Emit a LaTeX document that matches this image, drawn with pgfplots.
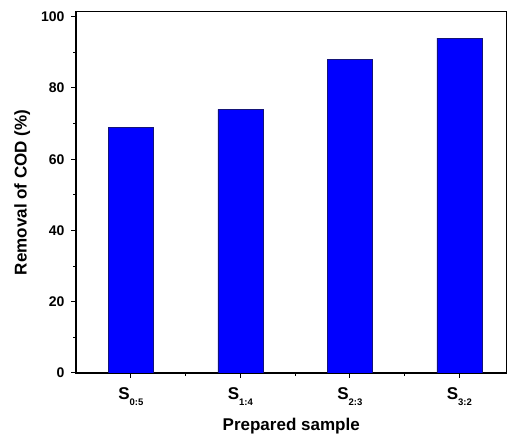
\documentclass[border=0pt]{standalone}
\usepackage{fontspec}
\setmainfont{Liberation Sans}
\usepackage{pgfplots}
\pgfplotsset{compat=1.18}
\usetikzlibrary{calc}
\definecolor{barblue}{RGB}{0,0,255}
\definecolor{baredge}{RGB}{20,20,120}
\newcommand{\sub}[1]{\raisebox{-6pt}{\fontsize{9.5}{9.5}\selectfont\bfseries #1}}
\begin{document}
\begin{tikzpicture}
\begin{axis}[
  name=ax,
  scale only axis,
  width=430pt, height=361pt,
  xmin=0.5, xmax=4.43,
  ymin=0, ymax=101.4,
  xtick={1,2,3,4},
  xticklabels={S\sub{0:5},S\sub{1:4},S\sub{2:3},S\sub{3:2}},
  minor xtick={1.5,2.5,3.5},
  ytick={0,20,40,60,80,100},
  minor ytick={10,30,50,70,90},
  tick align=outside,
  tick pos=left,
  major tick length=5pt,
  minor tick length=3pt,
  every tick/.style={black, line width=1pt},
  axis line style={line width=1.2pt},
  /pgf/number format/assume math mode=true,
  yticklabel style={font=\fontsize{14}{14}\selectfont\bfseries, xshift=-3pt},
  xticklabel style={font=\fontsize{17}{17}\selectfont\bfseries, yshift=-6pt},
  xlabel={Prepared sample},
  ylabel={Removal of COD (\%)},
  xlabel style={font=\fontsize{17}{17}\selectfont\bfseries, yshift=-6pt},
  ylabel style={font=\fontsize{17}{17}\selectfont\bfseries, yshift=4pt},
  ybar, bar width=45pt,
]
\addplot[fill=barblue, draw=baredge, line width=0.5pt] coordinates {(1,69) (2,74) (3,88) (4,94)};
\end{axis}
\pgfresetboundingbox
\path ($(ax.south west)+(-76pt,-71.3pt)$) rectangle ($(ax.north east)+(0.6pt,11.7pt)$);
\end{tikzpicture}
\end{document}
